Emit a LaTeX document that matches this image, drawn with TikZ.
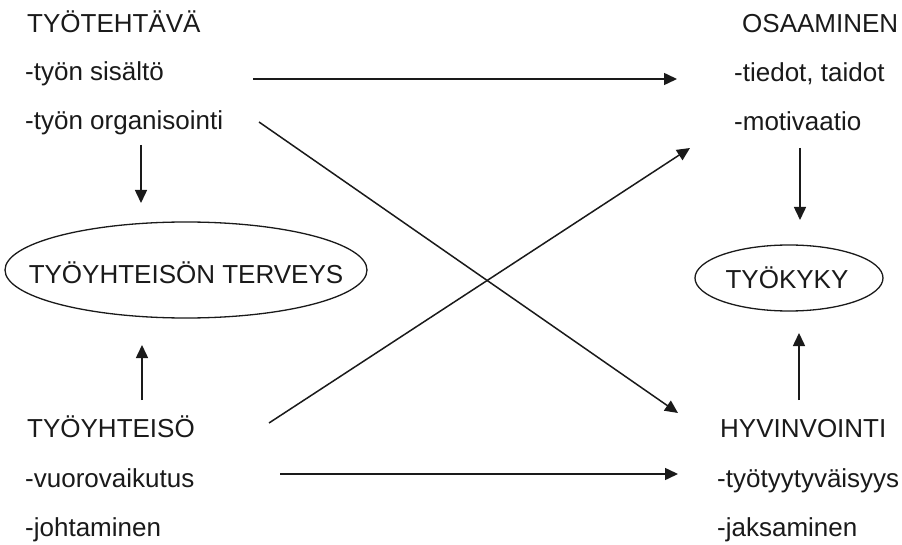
\documentclass[tikz,border=0pt]{standalone}
\usepackage{fontspec}
\setmainfont{Liberation Sans}
\usetikzlibrary{shapes.geometric,arrows.meta}
\definecolor{ink}{HTML}{1A1A1A}
\tikzset{
  lbl/.style={anchor=base west, inner sep=0pt, text=ink, font=\fontsize{26}{30}\selectfont},
  ctext/.style={inner sep=0pt, text=ink, font=\fontsize{26}{30}\selectfont},
  oval/.style={draw=ink, ellipse, line width=1.3pt, inner sep=0pt},
  arr/.style={draw=ink, line width=1.5pt, -{Triangle[length=13pt,width=12pt]}}
}
\begin{document}
\begin{tikzpicture}[x=1pt,y=-1pt]
\useasboundingbox[fill=white] (0,0) rectangle (902,545);
% left top
\node[lbl] (tt) at (27,33) {TYÖTEHTÄVÄ};
\node[lbl] (sis) at (25,81) {-työn sisältö};
\node[lbl] (org) at (25,130) {-työn organisointi};
% left bottom
\node[lbl] (yht) at (27,437) {TYÖYHTEISÖ};
\node[lbl] (vuo) at (25,487) {-vuorovaikutus};
\node[lbl] (joh) at (25,536) {-johtaminen};
% right top
\node[lbl] (osa) at (742,33) {OSAAMINEN};
\node[lbl] (tie) at (734,82) {-tiedot, taidot};
\node[lbl] (mot) at (734,131) {-motivaatio};
% right bottom
\node[lbl] (hyv) at (720,437) {HYVINVOINTI};
\node[lbl] (tyy) at (717,487) {-työtyytyväisyys};
\node[lbl] (jak) at (717,536) {-jaksaminen};
% ellipses
\node[oval, minimum width=362pt, minimum height=96pt] (ter) at (186,270) {};
\node[ctext] (tertxt) at (186,273) {TYÖYHTEISÖN TERVEYS};
\node[oval, minimum width=188pt, minimum height=66pt] (kyk) at (789,278) {};
\node[ctext] (kyktxt) at (787,278) {TYÖKYKY};
% connector end points
\coordinate (a1s) at (253,79);  \coordinate (a1e) at (677,79);
\coordinate (a2s) at (259,122); \coordinate (a2e) at (678,413);
\coordinate (a3s) at (269,423); \coordinate (a3e) at (690,148);
\coordinate (a4s) at (280,474); \coordinate (a4e) at (678,474);
\coordinate (a5s) at (141,145); \coordinate (a5e) at (141,203);
\coordinate (a6s) at (142,400); \coordinate (a6e) at (142,345);
\coordinate (a7s) at (800,148); \coordinate (a7e) at (800,220);
\coordinate (a8s) at (799,400); \coordinate (a8e) at (799,333);
\draw[arr] (a1s) -- (a1e);
\draw[arr] (a2s) -- (a2e);
\draw[arr] (a3s) -- (a3e);
\draw[arr] (a4s) -- (a4e);
\draw[arr] (a5s) -- (a5e);
\draw[arr] (a6s) -- (a6e);
\draw[arr] (a7s) -- (a7e);
\draw[arr] (a8s) -- (a8e);
\end{tikzpicture}
\end{document}
